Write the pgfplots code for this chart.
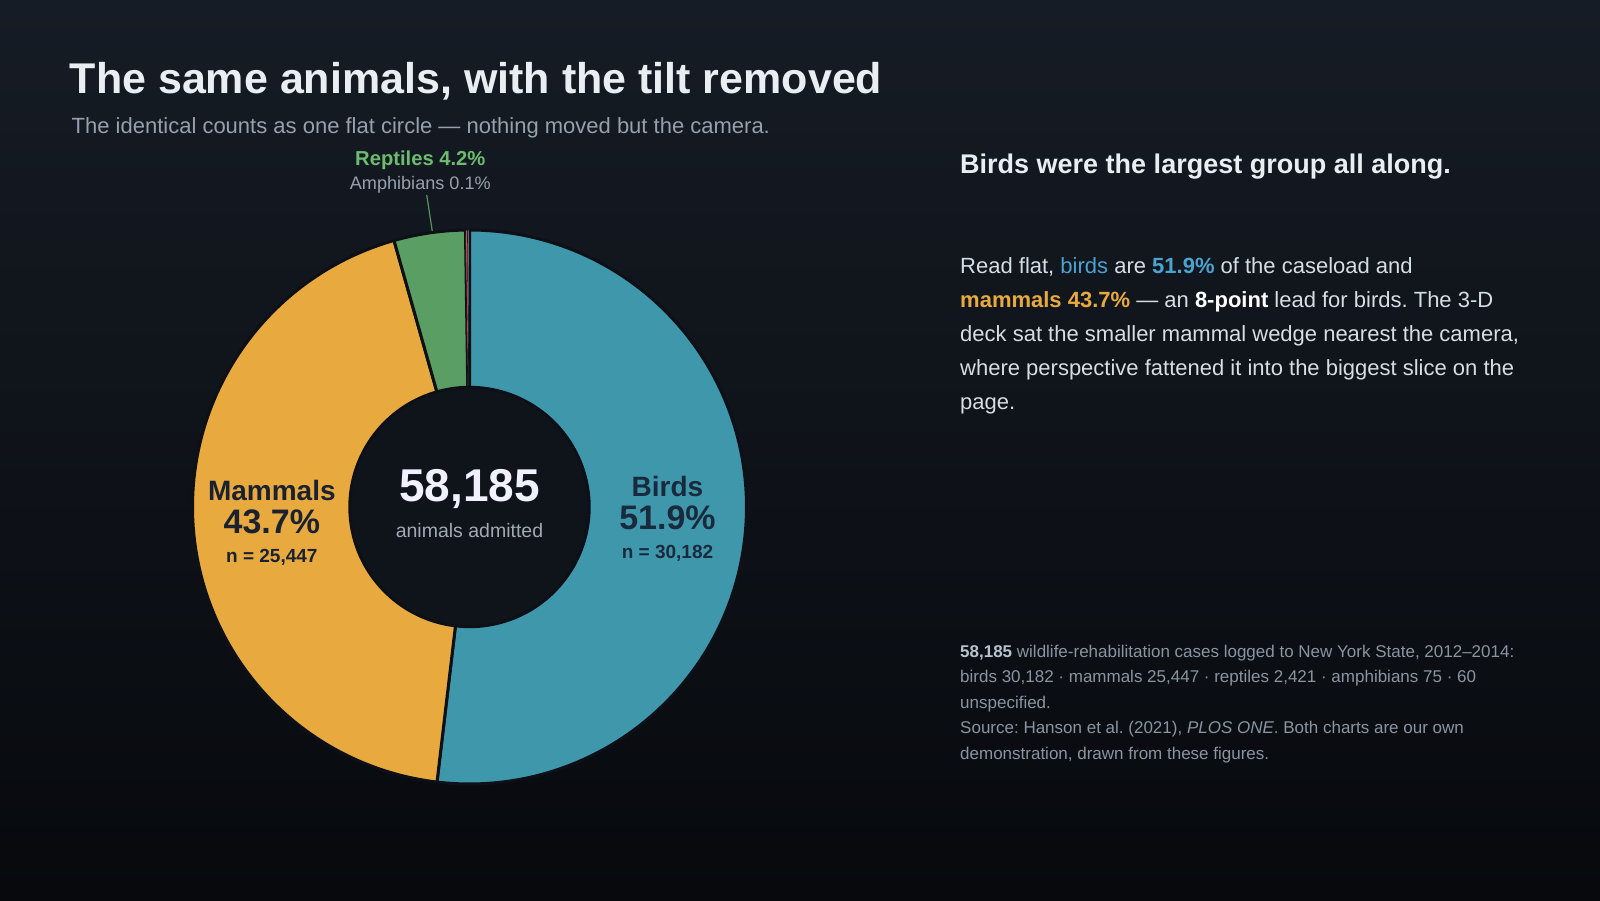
\documentclass[border=0pt]{standalone}
\usepackage{pgfplots}
\pgfplotsset{compat=1.18}
\usepackage{pgfplotstable}
\usepackage{fontspec}
\setmainfont{Liberation Sans}
\frenchspacing

\definecolor{bgtop}{HTML}{161C25}
\definecolor{bgbot}{HTML}{07090D}
\definecolor{hole}{HTML}{0F141B}
\definecolor{edge}{HTML}{0D1117}
\definecolor{birdc}{HTML}{3F97AB}
\definecolor{mamc}{HTML}{E8AA3F}
\definecolor{repc}{HTML}{5A9E63}
\definecolor{ampc}{HTML}{C25B56}
\definecolor{unsc}{HTML}{6B7580}
\definecolor{titlec}{HTML}{E9EEF3}
\definecolor{subc}{HTML}{95A1AE}
\definecolor{bodyc}{HTML}{D5DDE5}
\definecolor{footc}{HTML}{8A95A1}
\definecolor{footb}{HTML}{B9C3CD}
\definecolor{birdtxt}{HTML}{4BA3CF}
\definecolor{labdark}{HTML}{1A2230}
\definecolor{birdlab}{HTML}{1A2A3D}
\definecolor{replab}{HTML}{6DBB70}

\newcommand\fs[1]{\fontsize{#1pt}{#1pt}\selectfont}

% admissions by group
\pgfplotstableread{
group count
Birds 30182
Mammals 25447
Reptiles 2421
Amphibians 75
Unspecified 60
}\animals

\newcommand\getcount[2]{\pgfplotstablegetelem{#1}{count}\of\animals\edef#2{\pgfplotsretval}}
\getcount{0}\cB
\getcount{1}\cM
\getcount{2}\cR
\getcount{3}\cA
\getcount{4}\cU
\edef\total{\fpeval{\cB+\cM+\cR+\cA+\cU}}
% slice boundaries, clockwise from 12 o'clock
\edef\aO{90}
\edef\aB{\fpeval{90-360*\cB/\total}}
\edef\aM{\fpeval{\aB-360*\cM/\total}}
\edef\aR{\fpeval{\aM-360*\cR/\total}}
\edef\aA{\fpeval{\aR-360*\cA/\total}}
\edef\aU{\fpeval{\aA-360*\cU/\total}}
\def\Ro{277}
\def\Ri{119.7}
\def\Rm{198.3}
\edef\bx{\fpeval{\Rm*cosd((\aO+\aB)/2)}}
\edef\by{\fpeval{\Rm*sind((\aO+\aB)/2)}}
\edef\mx{\fpeval{\Rm*cosd((\aB+\aM)/2)}}
\edef\my{\fpeval{\Rm*sind((\aB+\aM)/2)}}

\begin{document}
\begin{tikzpicture}[x=1pt,y=1pt]
\useasboundingbox (0,0) rectangle (1600,900);
\shade[top color=bgtop, bottom color=bgbot] (0,0) rectangle (1600,900);

% titles
\node[anchor=base west, inner sep=0, text=titlec, font=\fs{43}\bfseries] at (69.6,806) {The same animals, with the tilt removed};
\node[anchor=base west, inner sep=0, text=subc, font=\fs{22}] at (71.5,766.5) {The identical counts as one flat circle — nothing moved but the camera.};

% reptiles callout
\node[anchor=base, inner sep=0, text=replab, font=\fs{20.2}\bfseries] at (420.3,734.5) {Reptiles 4.2\%};
\node[anchor=base, inner sep=0, text=subc, font=\fs{18.1}] at (420.3,710.5) {Amphibians 0.1\%};
\draw[replab!80!black, line width=1.2pt] (426.7,705) -- (432.7,666);

\begin{axis}[at={(469.5,393)}, anchor=center, x=1pt, y=1pt,
  xmin=-300, xmax=300, ymin=-300, ymax=300, hide axis, clip=false]
\addplot[fill=birdc, draw=edge, line width=3pt, line join=round, domain=\aB:\aO, samples=180, variable=\t]
  ({\Ro*cos(\t)},{\Ro*sin(\t)}) -- (0,0) -- cycle;
\addplot[fill=mamc, draw=edge, line width=3pt, line join=round, domain=\aM:\aB, samples=160, variable=\t]
  ({\Ro*cos(\t)},{\Ro*sin(\t)}) -- (0,0) -- cycle;
\addplot[fill=repc, draw=edge, line width=3pt, line join=round, domain=\aR:\aM, samples=20, variable=\t]
  ({\Ro*cos(\t)},{\Ro*sin(\t)}) -- (0,0) -- cycle;
\addplot[fill=ampc, draw=edge, line width=0.6pt, domain=\aA:\aR, samples=2, variable=\t]
  ({\Ro*cos(\t)},{\Ro*sin(\t)}) -- (0,0) -- cycle;
\addplot[fill=unsc, draw=edge, line width=0.6pt, domain=\aU:\aA, samples=2, variable=\t]
  ({\Ro*cos(\t)},{\Ro*sin(\t)}) -- (0,0) -- cycle;
\addplot[fill=hole, draw=edge, line width=3pt, domain=0:360, samples=200, variable=\t]
  ({\Ri*cos(\t)},{\Ri*sin(\t)}) -- cycle;

% slice labels
\node[anchor=base, inner sep=0, text=labdark, font=\fs{28}\bfseries] at (\mx,\my+22.5) {Mammals};
\node[anchor=base, inner sep=0, text=labdark, font=\fs{34}\bfseries] at (\mx,\my-10.5) {43.7\%};
\node[anchor=base, inner sep=0, text=labdark, font=\fs{19}\bfseries] at (\mx,\my-39.5) {n = 25,447};
\node[anchor=base, inner sep=0, text=birdlab, font=\fs{28}\bfseries] at (\bx,\by+22.5) {Birds};
\node[anchor=base, inner sep=0, text=birdlab, font=\fs{34}\bfseries] at (\bx,\by-10.5) {51.9\%};
\node[anchor=base, inner sep=0, text=birdlab, font=\fs{19}\bfseries] at (\bx,\by-39.5) {n = 30,182};

% centre
\node[anchor=base, inner sep=0, text=white!94!blue, font=\fs{46}\bfseries] at (0,5) {58,185};
\node[anchor=base, inner sep=0, text=subc!90!white, font=\fs{19.5}] at (0,-31) {animals admitted};
\end{axis}

% right column
\node[anchor=base west, inner sep=0, text=titlec, font=\fs{27}\bfseries] at (960,726.5) {Birds were the largest group all along.};
\begin{scope}[every node/.style={anchor=base west, inner sep=0, text=bodyc, font=\fs{22}}]
\node at (960,626.5) {Read flat, {\color{birdtxt}birds} are {\bfseries\color{birdtxt}51.9\%} of the caseload and};
\node at (960,592.5) {{\bfseries\color{mamc}mammals 43.7\%} — an {\bfseries\color{white}8-point} lead for birds. The 3-D};
\node at (960,558.5) {deck sat the smaller mammal wedge nearest the camera,};
\node at (960,524.5) {where perspective fattened it into the biggest slice on the};
\node at (960,490.5) {page.};
\end{scope}
\begin{scope}[every node/.style={anchor=base west, inner sep=0, text=footc, font=\fs{17}}]
\node at (960,243) {{\bfseries\color{footb}58,185} wildlife-rehabilitation cases logged to New York State, 2012–2014:};
\node at (960,217.4) {birds 30,182 · mammals 25,447 · reptiles 2,421 · amphibians 75 · 60};
\node at (960,192) {unspecified.};
\node at (960,166.3) {Source: Hanson et al. (2021), \textit{PLOS ONE}. Both charts are our own};
\node at (960,140.8) {demonstration, drawn from these figures.};
\end{scope}
\end{tikzpicture}
\end{document}
